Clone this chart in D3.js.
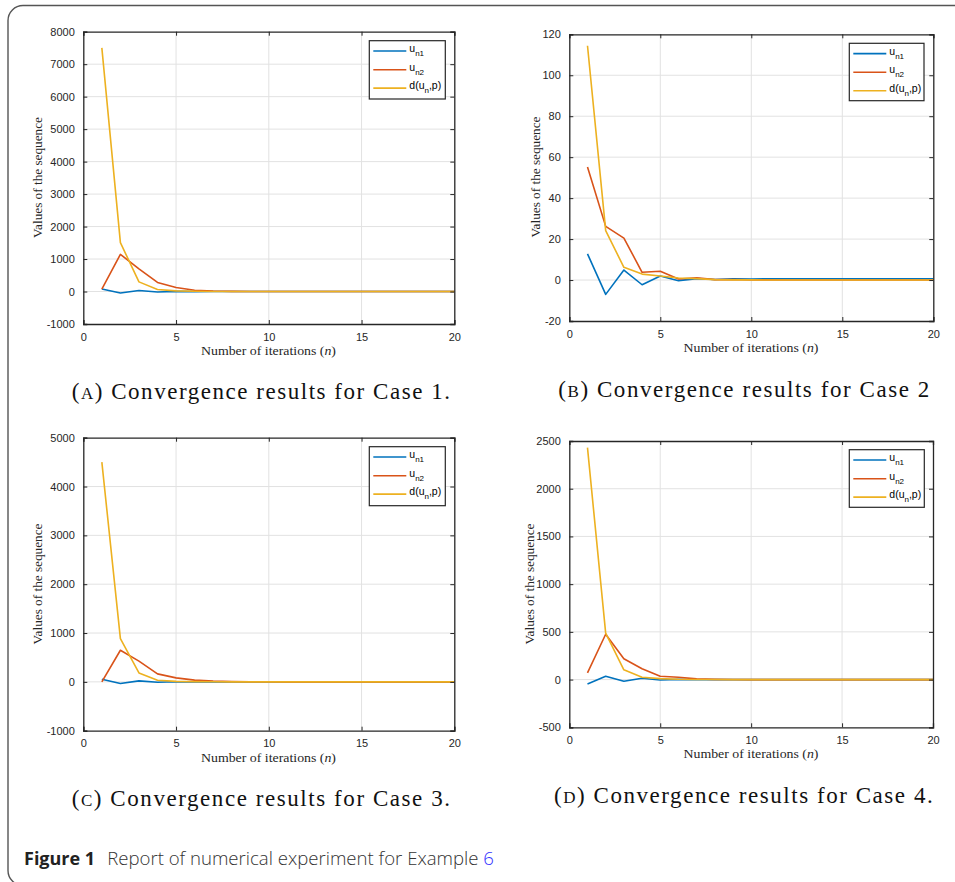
<!DOCTYPE html>
<html>
<head>
<meta charset="utf-8">
<script src="https://cdn.jsdelivr.net/npm/d3@7"></script>
<style>
  html, body { margin: 0; padding: 0; background: #fff; }
  svg { display: block; }
</style>
</head>
<body>
<script>
// ---------- DATA ----------
const iterations = [1,2,3,4,5,6,7,8,9,10,11,12,13,14,15,16,17,18,19,20];
const xTicks = [0, 5, 10, 15, 20];
const seriesNames = ["u_n1", "u_n2", "d(u_n,p)"];
const seriesColors = ["#0072BD", "#D95319", "#EDB120"];

const caseA_un1 = [80,-43,31,-15,5,-2,1,0,0,0,0,0,0,0,0,0,0,0,0,0];
const caseA_un2 = [70,1145,700,280,124,40,15,6,2,1,0.5,0,0,0,0,0,0,0,0,0];
const caseA_d   = [7500,1505,297,62,20,8,3,1,0.5,0.2,0,0,0,0,0,0,0,0,0,0];
const caseA_yTicks = [-1000,0,1000,2000,3000,4000,5000,6000,7000,8000];

const caseB_un1 = [12.8,-7.0,4.9,-2.3,2.0,-0.3,0.7,0.3,0.6,0.5,0.6,0.6,0.6,0.6,0.6,0.6,0.6,0.6,0.6,0.6];
const caseB_un2 = [55.2,26.2,20.5,3.8,4.3,0.5,1.1,0.2,0.3,0.1,0.1,0,0,0,0,0,0,0,0,0];
const caseB_d   = [114.4,24.1,6.2,2.9,2.0,1.0,0.7,0.2,0.1,0.1,0,0,0,0,0,0,0,0,0,0];
const caseB_yTicks = [-20,0,20,40,60,80,100,120];

const caseC_un1 = [55,-34,20,-7,3,-1,0.5,0,0,0,0,0,0,0,0,0,0,0,0,0];
const caseC_un2 = [0,647,424,163,82,35,15,6,2,1,0,0,0,0,0,0,0,0,0,0];
const caseC_d   = [4500,885,184,34,10,4,1,0.5,0,0,0,0,0,0,0,0,0,0,0,0];
const caseC_yTicks = [-1000,0,1000,2000,3000,4000,5000];

const caseD_un1 = [-46,35,-18,14,-4,2,-1,0,0,0,0,0,0,0,0,0,0,0,0,0];
const caseD_un2 = [70,475,218,113,35,25,7,2,1,0,0,0,0,0,0,0,0,0,0,0];
const caseD_d   = [2430,486,102,25,10,3,1,0.5,0,0,0,0,0,0,0,0,0,0,0,0];
const caseD_yTicks = [-500,0,500,1000,1500,2000,2500];

const subLetters = ["A", "B", "C", "D"];
const subTexts = ["Convergence results for Case 1.", "Convergence results for Case 2",
                  "Convergence results for Case 3.", "Convergence results for Case 4."];
const xLabel = "Number of iterations (";
const yLabel = "Values of the sequence";

// ---------- LAYOUT ----------
const W = 955, H = 882;
const panels = [
  { series: [caseA_un1, caseA_un2, caseA_d], yTicks: caseA_yTicks,
    box: { l: 83.3, r: 454.3, t: 31.7, b: 324 }, legend: { x: 369.3, y: 40.7, w: 76, h: 58.3 },
    ylab: { x: 37.7, y: 177.5 }, xlab: { x: 268.5, y: 355 }, cap: { x0: 71.7, x1: 450, y: 399 } },
  { series: [caseB_un1, caseB_un2, caseB_d], yTicks: caseB_yTicks,
    box: { l: 569.3, r: 933.3, t: 34.3, b: 321 }, legend: { x: 849.3, y: 43.3, w: 74.7, h: 57.4 },
    ylab: { x: 535, y: 177 }, xlab: { x: 751, y: 351.7 }, cap: { x0: 558.3, x1: 929.3, y: 396.5 } },
  { series: [caseC_un1, caseC_un2, caseC_d], yTicks: caseC_yTicks,
    box: { l: 83.3, r: 454.3, t: 437.7, b: 730.7 }, legend: { x: 369.3, y: 446.7, w: 76, h: 59 },
    ylab: { x: 37.7, y: 584 }, xlab: { x: 268.5, y: 761.7 }, cap: { x0: 71.7, x1: 450, y: 805.5 } },
  { series: [caseD_un1, caseD_un2, caseD_d], yTicks: caseD_yTicks,
    box: { l: 569.3, r: 933, t: 441, b: 727.3 }, legend: { x: 849.3, y: 449.7, w: 75, h: 57.6 },
    ylab: { x: 529, y: 584 }, xlab: { x: 751, y: 757.7 }, cap: { x0: 554, x1: 932.7, y: 803.3 } }
];

const svg = d3.select("body").append("svg").attr("width", W).attr("height", H);

// outer frame
svg.append("rect").attr("x", 8).attr("y", 5.5).attr("width", 1000).attr("height", 880)
  .attr("rx", 15).attr("ry", 15).attr("fill", "none").attr("stroke", "#555").attr("stroke-width", 1.4);

const axisColor = "#262626";
const tickFont = "'Liberation Sans', Arial, sans-serif";
const serifFont = "'Liberation Serif', 'DejaVu Serif', serif";
const plainNum = d => String(d);

panels.forEach((p, i) => {
  const b = p.box;
  const x = d3.scaleLinear().domain([0, 20]).range([b.l, b.r]);
  const yd = d3.extent(p.yTicks);
  const y = d3.scaleLinear().domain(yd).range([b.b, b.t]);
  const g = svg.append("g");

  // grid
  g.append("g").selectAll("line").data(xTicks.slice(1, -1)).join("line")
    .attr("x1", d => x(d)).attr("x2", d => x(d)).attr("y1", b.t).attr("y2", b.b)
    .attr("stroke", "#e2e2e2").attr("stroke-width", 1);
  g.append("g").selectAll("line").data(p.yTicks.slice(1, -1)).join("line")
    .attr("y1", d => y(d)).attr("y2", d => y(d)).attr("x1", b.l).attr("x2", b.r)
    .attr("stroke", "#e2e2e2").attr("stroke-width", 1);

  // lines
  const line = d3.line().x((d, k) => x(iterations[k])).y(d => y(d));
  p.series.forEach((s, k) => {
    g.append("path").datum(s).attr("d", line).attr("fill", "none")
      .attr("stroke", seriesColors[k]).attr("stroke-width", 1.6).attr("stroke-linejoin", "round");
  });

  // axes (inward ticks, all four sides)
  const tl = 4;
  const xAxB = d3.axisBottom(x).tickValues(xTicks).tickSize(-tl).tickPadding(tl + 5).tickFormat(plainNum);
  const xAxT = d3.axisTop(x).tickValues(xTicks).tickSize(-tl).tickFormat("");
  const yAxL = d3.axisLeft(y).tickValues(p.yTicks).tickSize(-tl).tickPadding(tl + 4.5).tickFormat(plainNum);
  const yAxR = d3.axisRight(y).tickValues(p.yTicks).tickSize(-tl).tickFormat("");
  const styleAxis = sel => {
    sel.selectAll("path").attr("stroke", axisColor).attr("stroke-width", 1.2);
    sel.selectAll("line").attr("stroke", axisColor).attr("stroke-width", 1);
    sel.selectAll("text").attr("fill", axisColor).style("font-family", tickFont).style("font-size", "11px");
  };
  g.append("g").attr("transform", `translate(0,${b.b})`).call(xAxB).call(styleAxis)
    .selectAll("text").attr("dy", "0.71em");
  g.append("g").attr("transform", `translate(0,${b.t})`).call(xAxT).call(styleAxis);
  g.append("g").attr("transform", `translate(${b.l},0)`).call(yAxL).call(styleAxis);
  g.append("g").attr("transform", `translate(${b.r},0)`).call(yAxR).call(styleAxis);
  g.selectAll(".domain").attr("stroke-width", 1.3);

  // y label
  g.append("text").attr("transform", `translate(${p.ylab.x},${p.ylab.y}) rotate(-90)`)
    .attr("text-anchor", "middle").attr("dy", "0.35em")
    .style("font-family", serifFont).style("font-size", "13.5px").attr("fill", axisColor)
    .attr("textLength", 121).attr("lengthAdjust", "spacingAndGlyphs")
    .text(yLabel);

  // x label
  const xl = g.append("text").attr("x", p.xlab.x).attr("y", p.xlab.y).attr("text-anchor", "middle")
    .style("font-family", serifFont).style("font-size", "13.5px").attr("fill", axisColor)
    .attr("textLength", 135).attr("lengthAdjust", "spacingAndGlyphs");
  xl.append("tspan").text(xLabel);
  xl.append("tspan").style("font-style", "italic").text("n");
  xl.append("tspan").text(")");

  // legend
  const L = p.legend;
  const lg = g.append("g");
  lg.append("rect").attr("x", L.x).attr("y", L.y).attr("width", L.w).attr("height", L.h)
    .attr("fill", "#fff").attr("stroke", axisColor).attr("stroke-width", 1.2);
  const rowOff = [10.3, 29, 47.4];
  seriesNames.forEach((nm, k) => {
    const ry = L.y + rowOff[k];
    lg.append("line").attr("x1", L.x + 4).attr("x2", L.x + 37).attr("y1", ry).attr("y2", ry)
      .attr("stroke", seriesColors[k]).attr("stroke-width", 1.6);
    const t = lg.append("text").attr("x", L.x + 40).attr("y", ry + 1)
      .style("font-family", tickFont).style("font-size", "10.5px").attr("fill", "#000");
    if (k < 2) {
      t.append("tspan").text("u");
      t.append("tspan").attr("dy", 4).style("font-size", "8px").text(k === 0 ? "n1" : "n2");
    } else {
      t.append("tspan").text("d(u");
      t.append("tspan").attr("dy", 4).style("font-size", "8px").text("n");
      t.append("tspan").attr("dy", -4).text(",p)");
    }
  });

  // subcaption
  const c = p.cap;
  const ct = svg.append("text").attr("x", c.x0).attr("y", c.y)
    .style("font-family", serifFont).style("font-size", "23px").attr("fill", "#111")
    .attr("textLength", c.x1 - c.x0).attr("lengthAdjust", "spacing");
  ct.append("tspan").text("(");
  ct.append("tspan").style("font-size", "17px").text(subLetters[i]);
  ct.append("tspan").text(") " + subTexts[i]);
});

// figure caption
const fc = svg.append("text").attr("x", 24).attr("y", 865)
  .style("font-family", "'Open Sans', 'Noto Sans', sans-serif").style("font-size", "18px").attr("fill", "#222");
fc.append("tspan").style("font-weight", "bold").text("Figure 1");
fc.append("tspan").attr("dx", 12).style("font-weight", "300").style("font-size", "18.6px").attr("fill", "#333")
  .text("Report of numerical experiment for Example ");
fc.append("tspan").attr("fill", "#3333ff").style("font-weight", "300").style("font-size", "18.6px").text("6");
</script>
</body>
</html>
